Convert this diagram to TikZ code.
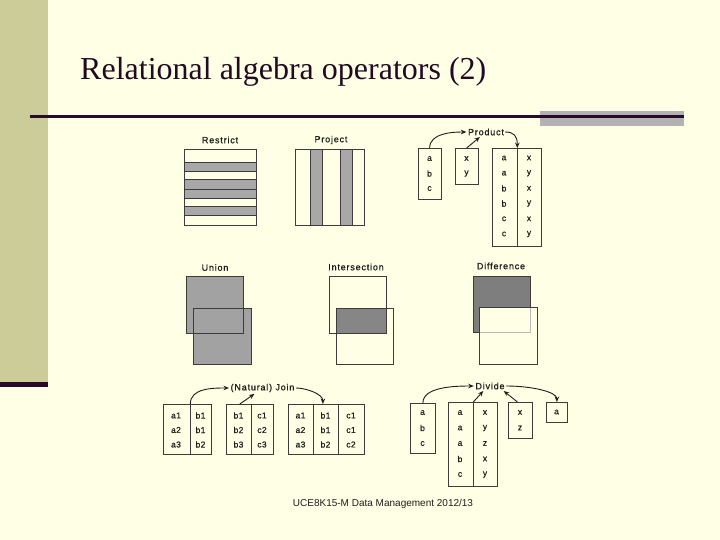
\documentclass[tikz,border=0pt]{standalone}
\usepackage{fontspec}
\setmainfont{Liberation Sans}
\newfontfamily\titlefam{Liberation Serif}
\newfontfamily\labfam[LetterSpace=9,FakeBold=0.8]{Liberation Sans}
\newfontfamily\cellfam[LetterSpace=4,FakeBold=0.6]{Liberation Sans}
\usetikzlibrary{arrows.meta}
\definecolor{bg}{HTML}{FFFFE5}
\definecolor{khaki}{HTML}{CCCC99}
\definecolor{darkline}{HTML}{2A0A2A}
\definecolor{graybar}{HTML}{B2B2B2}
\definecolor{bandgray}{HTML}{A8A8A8}
\definecolor{uniongray}{HTML}{A2A2A2}
\definecolor{intgray}{HTML}{868686}
\definecolor{diffgray}{HTML}{7E7E7E}
\definecolor{edge}{HTML}{3C3C3C}
\definecolor{inkc}{HTML}{1E1E1E}
\definecolor{titlec}{HTML}{220A22}
\newcommand\lbf{\labfam\fontsize{9}{10}\selectfont}
\newcommand\cbf{\cellfam\fontsize{8.5}{9}\selectfont}
\begin{document}
\begin{tikzpicture}[x=1pt,y=-1pt,
  lab/.style={inner sep=0pt, font=\lbf, text=inkc},
  cell/.style={inner sep=0pt, font=\cbf, text=inkc},
  tbl/.style={draw=edge, line width=0.8pt, inner sep=0pt, anchor=north west},
  shp/.style={draw=edge, line width=0.8pt},
  arr/.style={draw=inkc, line width=0.9pt, -{Stealth[length=5.5pt,width=4.5pt]}}]
\useasboundingbox (0,0) rectangle (720,540);
% background and slide decoration
\fill[bg] (0,0) rectangle (720,540);
\fill[khaki] (0,0) rectangle (48,382);
\fill[darkline] (0,382) rectangle (48,387);
\fill[graybar] (540,111) rectangle (684,126.5);
\fill[darkline] (30,115) rectangle (684,118.5);
\node[anchor=base west, inner sep=0pt, font=\titlefam\fontsize{32}{36}\selectfont, text=titlec] (title) at (80,79.5) {Relational algebra operators (2)};
\node[inner sep=0pt, font=\fontsize{10}{12}\selectfont, text=inkc] (footer) at (383,503.5) {UCE8K15-M Data Management 2012/13};

% ---------- Restrict ----------
\node[lab] (restrictlab) at (220,140) {Restrict};
\filldraw[shp, fill=bandgray] (184,162) rectangle (256,171.5);
\filldraw[shp, fill=bandgray] (184,179) rectangle (256,198);
\draw[shp] (184,189) -- (256,189);
\filldraw[shp, fill=bandgray] (184,206) rectangle (256,215.5);
\draw[shp] (184,149) rectangle (256,225);

% ---------- Project ----------
\node[lab] (projectlab) at (331,140) {Project};
\filldraw[shp, fill=bandgray] (310,149) rectangle (322,225);
\filldraw[shp, fill=bandgray] (340,149) rectangle (352,225);
\draw[shp] (295,149) rectangle (364,225);

% ---------- Product ----------
\node[lab] (prod) at (486,132) {Product};
\node[tbl, minimum width=22.5pt, minimum height=51pt] (pa) at (418,148) {};
\node[tbl, minimum width=22.5pt, minimum height=36pt] (pb) at (455,148) {};
\node[tbl, minimum width=24.5pt, minimum height=98pt] (pr1) at (492,148) {};
\node[tbl, minimum width=24.5pt, minimum height=98pt] (pr2) at (516.5,148) {};
\foreach \t [count=\i] in {a,b,c}
  \node[cell] (pa\i) at (429.5,{158.5+(\i-1)*15}) {\t};
\foreach \t [count=\i] in {x,y}
  \node[cell] (pb\i) at (466.5,{158.5+(\i-1)*15}) {\t};
\foreach \t [count=\i] in {a,a,b,b,c,c}
  \node[cell] (pr1\i) at (504,{158+(\i-1)*15.2}) {\t};
\foreach \t [count=\i] in {x,y,x,y,x,y}
  \node[cell] (pr2\i) at (529,{158+(\i-1)*15.2}) {\t};
\draw[arr] (pa.north) .. controls +(0,-15) and +(-14,0) .. ([xshift=-1.5pt]prod.west);
\draw[arr] (pb.north) -- ([xshift=12pt,yshift=-1.5pt]prod.south west);
\draw[arr] ([xshift=1pt]prod.east) .. controls +(9,0) and +(0,-12) .. (pr1.north east);

% ---------- Union ----------
\node[lab] (unionlab) at (215,267.5) {Union};
\fill[uniongray] (186,276) rectangle (243,333);
\fill[uniongray] (193,308) rectangle (251,364);
\draw[shp] (186,276) rectangle (243,333);
\draw[shp] (193,308) rectangle (251,364);

% ---------- Intersection ----------
\node[lab] (interlab) at (356,267) {Intersection};
\fill[intgray] (336,308) rectangle (386,333);
\draw[shp] (329,276) rectangle (386,333);
\draw[shp] (336,308) rectangle (393,364);

% ---------- Difference ----------
\node[lab] (difflab) at (501,266) {Difference};
\fill[diffgray] (473,276) rectangle (530,332);
\fill[bg] (479,307) rectangle (537,364);
\draw[draw=edge!35, line width=0.6pt] (479,332) -- (530,332) -- (530,307);
\draw[shp] (473,307) -- (473,276) -- (530,276) -- (530,307);
\draw[shp] (473,307) -- (473,332) -- (479,332);
\draw[shp] (479,307) rectangle (537,364);

% ---------- (Natural) Join ----------
\node[lab] (joinlab) at (262.5,388) {(Natural) Join};
\node[tbl, minimum width=26.5pt, minimum height=50pt] (j1a) at (163,404) {};
\node[tbl, minimum width=21.5pt, minimum height=50pt] (j1b) at (189.5,404) {};
\node[tbl, minimum width=25pt, minimum height=50pt] (j2a) at (226,404) {};
\node[tbl, minimum width=22pt, minimum height=50pt] (j2b) at (251,404) {};
\node[tbl, minimum width=25pt, minimum height=50pt] (j3a) at (288,404) {};
\node[tbl, minimum width=25pt, minimum height=50pt] (j3b) at (313,404) {};
\node[tbl, minimum width=26pt, minimum height=50pt] (j3c) at (338,404) {};
\foreach \t [count=\i] in {a1,a2,a3}
  \node[cell] (j1a\i) at (176,{415.5+(\i-1)*14.5}) {\t};
\foreach \t [count=\i] in {b1,b1,b2}
  \node[cell] (j1b\i) at (200.5,{415.5+(\i-1)*14.5}) {\t};
\foreach \t [count=\i] in {b1,b2,b3}
  \node[cell] (j2a\i) at (238.5,{415.5+(\i-1)*14.5}) {\t};
\foreach \t [count=\i] in {c1,c2,c3}
  \node[cell] (j2b\i) at (262,{415.5+(\i-1)*14.5}) {\t};
\foreach \t [count=\i] in {a1,a2,a3}
  \node[cell] (j3a\i) at (300.5,{415.5+(\i-1)*14.5}) {\t};
\foreach \t [count=\i] in {b1,b1,b2}
  \node[cell] (j3b\i) at (325.5,{415.5+(\i-1)*14.5}) {\t};
\foreach \t [count=\i] in {c1,c1,c2}
  \node[cell] (j3c\i) at (351,{415.5+(\i-1)*14.5}) {\t};
\draw[arr] (j1a.north east) .. controls +(0,-16) and +(-16,0) .. ([xshift=-1.5pt]joinlab.west);
\draw[arr] ([xshift=-12pt]j2a.north east) -- ([xshift=24pt,yshift=-1.5pt]joinlab.south west);
\draw[arr] ([xshift=1.5pt]joinlab.east) .. controls +(10,0) and +(0,-10) .. ([xshift=-3pt]j3b.north);

% ---------- Divide ----------
\node[lab] (divlab) at (490,386) {Divide};
\node[tbl, minimum width=25pt, minimum height=50pt] (d1) at (410,403) {};
\node[tbl, minimum width=24.5pt, minimum height=84pt] (d2a) at (448,402) {};
\node[tbl, minimum width=24.5pt, minimum height=84pt] (d2b) at (472.5,402) {};
\node[tbl, minimum width=24pt, minimum height=35.5pt] (d3) at (508,402) {};
\node[tbl, minimum width=21pt, minimum height=20pt] (d4) at (546,402) {};
\foreach \t [count=\i] in {a,b,c}
  \node[cell] (d1\i) at (422.5,{412.5+(\i-1)*15.5}) {\t};
\foreach \t [count=\i] in {a,a,a,b,c}
  \node[cell] (d2a\i) at (460,{412.5+(\i-1)*15.5}) {\t};
\foreach \t [count=\i] in {x,y,z,x,y}
  \node[cell] (d2b\i) at (485,{412.5+(\i-1)*15.5}) {\t};
\foreach \t [count=\i] in {x,z}
  \node[cell] (d3\i) at (520,{412.5+(\i-1)*15.5}) {\t};
\node[cell] (d41) at (556.5,412) {a};
\draw[arr] (d1.north) .. controls +(0,-16) and +(-20,0) .. ([xshift=-1.5pt]divlab.west);
\draw[arr] (d2a.north east) -- ([xshift=8pt,yshift=-1.5pt]divlab.south west);
\draw[arr] ([xshift=-3pt]d3.north) -- ([xshift=-1pt,yshift=-1.5pt]divlab.south east);
\draw[arr] ([xshift=1.5pt]divlab.east) .. controls +(26,0) and +(0,-10) .. (d4.north);
\end{tikzpicture}
\end{document}
